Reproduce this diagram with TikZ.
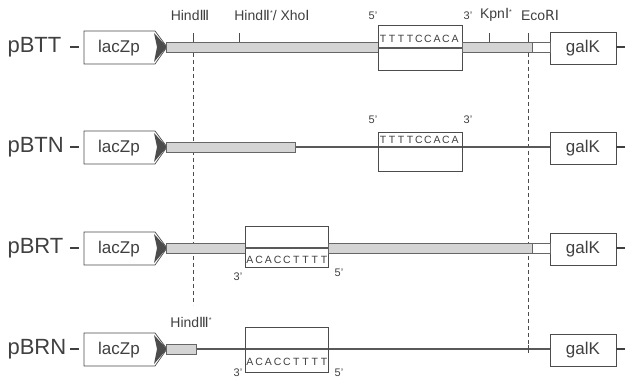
\documentclass[tikz,border=0pt]{standalone}
\usepackage{fontspec}
\setmainfont{Liberation Sans}
\newfontfamily\djv{DejaVu Sans}
\newcommand{\rn}[1]{{\djv #1}}
\newcommand{\st}{\raisebox{0.55ex}{\scriptsize *}}
\begin{document}
\begin{tikzpicture}[x=1pt,y=-1pt,
  ln/.style={draw=black!70, line width=0.7pt},
  dna/.style={draw=black!65, line width=2.6pt},
  hatch/.style={draw=black!60, line width=0.6pt, fill=black!17},
  whitebar/.style={draw=black!60, line width=0.6pt, fill=white},
  gbox/.style={draw=black!70, line width=0.7pt, fill=white, inner sep=0pt},
  rowlab/.style={font=\fontsize{22}{24}\selectfont, text=black!75, anchor=west},
  boxlab/.style={font=\fontsize{17}{18}\selectfont, text=black!75},
  site/.style={font=\fontsize{14}{15}\selectfont, text=black!75},
  endl/.style={font=\fontsize{11}{12}\selectfont, text=black!75},
  seq/.style={font=\fontsize{10.5}{11}\selectfont, text=black!75, inner sep=0pt},
  stub/.style={draw=black!75, line width=1.8pt},
  cut/.style={draw=black!70, line width=0.6pt, dash pattern=on 4pt off 3pt}]
\useasboundingbox (0,0) rectangle (629,379);

% ---------- generic pieces per row ----------
\foreach \r/\yc/\nm in {1/47/pBTT,2/147/pBTN,3/248/pBRT,4/349/pBRN}{
  \node[rowlab] (lab\r) at (4,\yc) {\nm};
  \coordinate (sl\r) at (70,\yc);
  \coordinate (sr\r) at (79,\yc);
  \draw[stub] (sl\r) -- (sr\r);
  % lacZp promoter arrow
  \draw[ln, fill=white] (84,\yc-16) -- (155,\yc-16) -- (167,\yc) -- (155,\yc+17) -- (84,\yc+17) -- cycle;
  \fill[black!70] (154,\yc-14) -- (167,\yc) -- (154,\yc+15) -- (157,\yc) -- cycle;
  \node[boxlab] (lac\r) at (119,\yc+1) {lacZp};
  % galK box
  \node[gbox, minimum width=66pt, minimum height=32pt] (gal\r) at (583,\yc+1) {};
  \node[boxlab] at (gal\r.center) {galK};
  \coordinate (gr\r) at (625,\yc);
  \draw[stub] (gal\r.east |- gr\r) -- (gr\r);
}

% ---------- row 1 : pBTT ----------
\draw[hatch] (166,42) rectangle (378,52);
\node[gbox, minimum width=84pt, minimum height=45pt] (ins1) at (420,47.5) {};
\draw[dna] (ins1.west |- 0,48) -- (ins1.east |- 0,48);
\draw[hatch] (462,42) rectangle (532,52);
\draw[whitebar] (532,42) rectangle (550,52);
\foreach \c [count=\i] in {T,T,T,T,C,C,A,C,A}
  \node[seq] at (374+9*\i,39) {\c};
\node[endl] at (373,16) {5'};
\node[endl] at (468,16) {3'};

% restriction sites (top)
\node[site] (h3) at (190,15) {Hind\rn{Ⅲ}};
\draw[ln] (193,33) -- (193,42);
\node[site] (h2) at (272,15) {Hind\rn{Ⅱ}\st/ Xho\rn{Ⅰ}};
\draw[ln] (239,33) -- (239,42);
\node[site] (kp) at (496,15) {Kpn\rn{Ⅰ}\st};
\draw[ln] (489,33) -- (489,42);
\node[site] (eco) at (540,15) {Eco\rn{RⅠ}};
\draw[ln] (528,33) -- (528,42);

% dashed cut lines
\coordinate (c1a) at (193,53);
\coordinate (c1b) at (193,305);
\draw[cut] (c1a) -- (c1b);
\coordinate (c2a) at (528,53);
\coordinate (c2b) at (528,349);
\draw[cut] (c2a) -- (c2b);

% ---------- row 2 : pBTN ----------
\draw[dna] (295,147) -- (gal2.west |- 0,147);
\draw[hatch] (166,142) rectangle (295,152);
\node[gbox, minimum width=84pt, minimum height=39pt, fill=none] (ins2) at (420,151.5) {};
\foreach \c [count=\i] in {T,T,T,T,C,C,A,C,A}
  \node[seq] at (374+9*\i,140) {\c};
\node[endl] at (373,120) {5'};
\node[endl] at (468,120) {3'};

% ---------- row 3 : pBRT ----------
\draw[hatch] (166,243) rectangle (245,253);
\node[gbox, minimum width=83pt, minimum height=41pt] (ins3) at (286.5,246.5) {};
\draw[dna] (ins3.west |- 0,248) -- (ins3.east |- 0,248);
\draw[hatch] (328,243) rectangle (532,253);
\draw[whitebar] (532,243) rectangle (550,253);
\foreach \c [count=\i] in {A,C,A,C,C,T,T,T,T}
  \node[seq] at (240.5+9.3*\i,260) {\c};
\node[endl] at (238,277) {3'};
\node[endl] at (339,273) {5'};

% ---------- row 4 : pBRN ----------
\draw[dna] (196,349) -- (gal4.west |- 0,349);
\draw[hatch] (166,344) rectangle (196,354);
\node[gbox, minimum width=83pt, minimum height=45pt, fill=none] (ins4) at (286.5,349.5) {};
\foreach \c [count=\i] in {A,C,A,C,C,T,T,T,T}
  \node[seq] at (240.5+9.3*\i,362) {\c};
\node[endl] at (238,373) {3'};
\node[endl] at (339,373) {5'};
\node[site] (h3s) at (191,322) {Hind\rn{Ⅲ}\st};
\draw[ln] (528,345) -- (528,353);
\end{tikzpicture}
\end{document}
